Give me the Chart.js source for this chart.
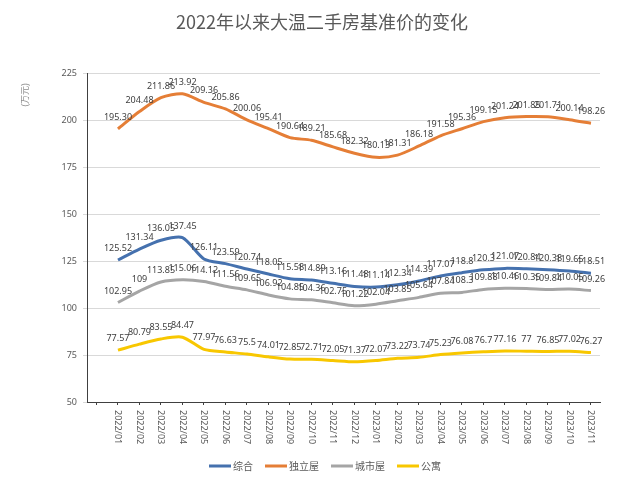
<!DOCTYPE html>
<html>
<head>
<meta charset="utf-8">
<script src="https://cdn.jsdelivr.net/npm/chart.js@4"></script>
<style>
  html, body { margin: 0; padding: 0; background: #fff; }
  #wrap { width: 640px; height: 482px; }
</style>
</head>
<body>
<div id="wrap"><canvas id="chart" width="640" height="482"></canvas></div>
<script>
const months = ['2022/01', '2022/02', '2022/03', '2022/04', '2022/05', '2022/06', '2022/07', '2022/08',
  '2022/09', '2022/10', '2022/11', '2022/12', '2023/01', '2023/02', '2023/03', '2023/04', '2023/05',
  '2023/06', '2023/07', '2023/08', '2023/09', '2023/10', '2023/11'];

// 综合
const composite = [125.52, 131.34, 136.05, 137.45, 126.11, 123.59, 120.74, 118.05, 115.58, 114.89, 113.16, 111.48,
  111.14, 112.34, 114.39, 117.07, 118.8, 120.3, 121.07, 120.84, 120.38, 119.65, 118.51];
// 独立屋 (kept as text so "195.30" prints as in the source)
const detached = ['195.30', '204.48', '211.86', '213.92', '209.36', '205.86', '200.06', '195.41', '190.64', '189.21',
  '185.68', '182.32', '180.13', '181.31', '186.18', '191.58', '195.36', '199.15', '201.24', '201.85', '201.71',
  '200.14', '198.26'];
// 城市屋
const townhouse = [102.95, 109, 113.85, 115.06, 114.12, 111.56, 109.65, 106.92, 104.85, 104.36, 102.75, 101.22,
  102.04, 103.85, 105.64, 107.84, 108.3, 109.88, 110.46, 110.35, 109.84, 110.05, 109.26];
// 公寓
const condo = [77.57, 80.79, 83.55, 84.47, 77.97, 76.63, 75.5, 74.01, 72.85, 72.71, 72.05, 71.37,
  72.07, 73.22, 73.74, 75.23, 76.08, 76.7, 77.16, 77, 76.85, 77.02, 76.27];

const seriesNames = ['综合', '独立屋', '城市屋', '公寓'];
const seriesColors = ['#4571AE', '#E57E36', '#A5A5A5', '#F8C700'];
const seriesValues = [composite, detached, townhouse, condo];

const yMin = 50, yMax = 225, yStep = 25;
const title = '2022年以来大温二手房基准价的变化';
const unit = '(万元)';

const grayText = '#595959';

const datasets = seriesValues.map((vals, s) => ({
  label: seriesNames[s],
  data: vals.map((v, i) => ({ x: i, y: Number(v) })),
  texts: vals.map(v => String(v)),
  borderColor: seriesColors[s],
  backgroundColor: seriesColors[s],
  borderWidth: 3,
  pointRadius: 0,
  tension: 0.25
}));

const decor = {
  id: 'decor',
  afterDatasetsDraw(chart) {
    const ctx = chart.ctx;
    ctx.save();
    ctx.font = '9px "Noto Sans", sans-serif';
    ctx.fillStyle = '#404040';
    ctx.textAlign = 'center';
    ctx.textBaseline = 'bottom';
    chart.data.datasets.forEach((ds, di) => {
      chart.getDatasetMeta(di).data.forEach((pt, i) => {
        ctx.fillText(ds.texts[i], pt.x, pt.y - 7);
      });
    });
    ctx.restore();
  },
  afterDraw(chart) {
    const ctx = chart.ctx;
    const xs = chart.scales.x;
    ctx.save();
    // title
    ctx.fillStyle = grayText;
    ctx.font = '18px "Noto Sans CJK SC", sans-serif';
    ctx.textAlign = 'center';
    ctx.textBaseline = 'middle';
    ctx.fillText(title, 322, 22);

    // unit, reading bottom to top
    ctx.save();
    ctx.translate(25, 95);
    ctx.rotate(-Math.PI / 2);
    ctx.fillStyle = '#8c8c8c';
    ctx.font = '9px "Noto Sans CJK SC", sans-serif';
    ctx.fillText(unit, 0, 0);
    ctx.restore();

    // month labels, reading top to bottom
    ctx.font = '9px "Noto Sans", sans-serif';
    ctx.fillStyle = grayText;
    months.forEach((m, i) => {
      ctx.save();
      ctx.translate(xs.getPixelForValue(i), 410);
      ctx.rotate(Math.PI / 2);
      ctx.textAlign = 'left';
      ctx.textBaseline = 'middle';
      ctx.fillText(m, 0, 0);
      ctx.restore();
    });

    // legend
    ctx.font = '10px "Noto Sans CJK SC", sans-serif';
    ctx.textAlign = 'left';
    ctx.textBaseline = 'middle';
    const sw = 22, gap = 2, between = 12;
    const widths = seriesNames.map(n => sw + gap + ctx.measureText(n).width);
    const total = widths.reduce((a, b) => a + b, 0) + between * (seriesNames.length - 1);
    let x = 325 - total / 2;
    const ly = 466;
    seriesNames.forEach((n, s) => {
      ctx.fillStyle = seriesColors[s];
      ctx.fillRect(x, ly - 1.5, sw, 3);
      ctx.fillStyle = grayText;
      ctx.fillText(n, x + sw + gap, ly);
      x += widths[s] + between;
    });
    ctx.restore();
  }
};

new Chart(document.getElementById('chart'), {
  type: 'line',
  data: { datasets },
  options: {
    responsive: false,
    animation: false,
    layout: { padding: { top: 73, right: 40, bottom: 0, left: 0 } },
    plugins: {
      legend: { display: false },
      tooltip: { enabled: false }
    },
    scales: {
      x: {
        type: 'linear',
        min: -1.44,
        max: 22.42,
        afterFit: s => { s.height = 80; },
        border: { color: '#404040', width: 1 },
        grid: { drawOnChartArea: false, drawTicks: true, tickLength: 3, color: '#404040' },
        ticks: { stepSize: 1, includeBounds: false, autoSkip: false, maxRotation: 0, callback: () => '' }
      },
      y: {
        min: yMin,
        max: yMax,
        afterFit: s => { s.width = 87; },
        border: { color: '#404040', width: 1 },
        grid: { color: '#d9d9d9', tickLength: 4 },
        ticks: {
          stepSize: yStep,
          padding: 6,
          color: grayText,
          font: { family: '"Noto Sans", sans-serif', size: 9 }
        }
      }
    }
  },
  plugins: [decor]
});
</script>
</body>
</html>
